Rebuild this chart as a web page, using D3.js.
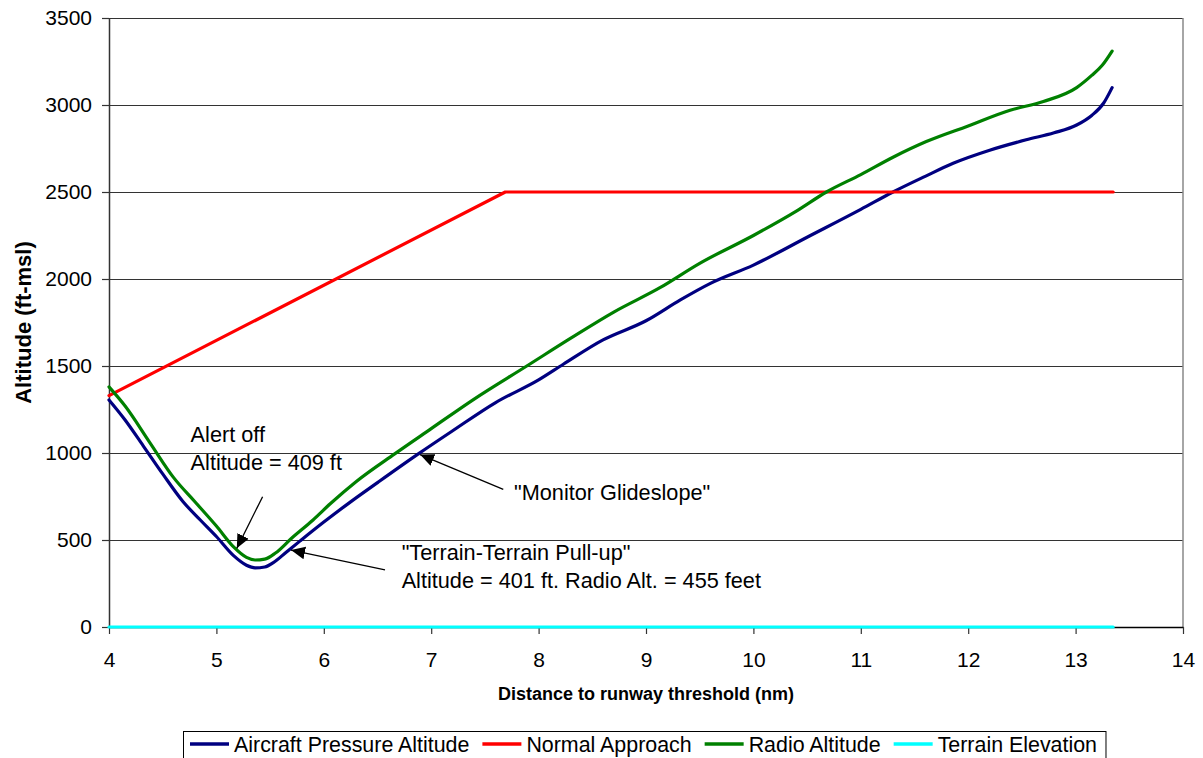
<!DOCTYPE html>
<html><head><meta charset="utf-8">
<script src="https://cdn.jsdelivr.net/npm/d3@7"></script>
<style>
body{margin:0;background:#fff}
svg{display:block}
text{font-family:"Liberation Sans",Arial,sans-serif;fill:#000}
</style>
</head><body>
<svg id="chart" width="1203" height="758"></svg>
<script>
// ---------- data ----------
const seriesNames = ["Aircraft Pressure Altitude", "Normal Approach", "Radio Altitude", "Terrain Elevation"];
const seriesColors = ["#000080", "#FF0000", "#008000", "#00FFFF"];
const xTickValues = [4, 5, 6, 7, 8, 9, 10, 11, 12, 13, 14];
const yTickValues = [0, 500, 1000, 1500, 2000, 2500, 3000, 3500];
const xTitle = "Distance to runway threshold (nm)";
const yTitle = "Altitude (ft-msl)";

const pressureAltitude = [
  [4.0,1305],[4.15,1190],[4.32,1040],[4.5,880],[4.69,720],[4.85,615],[5.0,520],
  [5.16,410],[5.28,355],[5.36,340],[5.45,345],[5.53,370],[5.65,430],[5.78,495],
  [6.0,603],[6.24,715],[6.5,830],[6.88,995],[7.2,1128],[7.6,1290],[8.0,1420],
  [8.23,1510],[8.6,1650],[9.0,1760],[9.32,1880],[9.6,1975],[10.0,2080],[10.5,2240],
  [11.0,2400],[11.3,2500],[11.6,2590],[11.86,2665],[12.2,2740],[12.54,2800],
  [12.8,2840],[13.01,2885],[13.15,2940],[13.26,3010],[13.34,3100]
];
const normalApproach = [[4.0,1330],[7.69,2500],[13.35,2500]];
const radioAltitude = [
  [4.0,1380],[4.15,1270],[4.38,1060],[4.6,860],[4.8,720],[5.0,580],[5.16,460],
  [5.28,400],[5.36,385],[5.45,390],[5.55,425],[5.7,510],[5.9,615],[6.06,708],
  [6.3,835],[6.66,995],[7.0,1140],[7.4,1310],[7.89,1500],[8.3,1660],[8.7,1810],
  [9.13,1950],[9.5,2090],[10.0,2250],[10.4,2390],[10.68,2500],[11.0,2600],
  [11.3,2700],[11.61,2790],[12.0,2880],[12.39,2970],[12.7,3020],[13.01,3100],
  [13.15,3170],[13.25,3230],[13.34,3310]
];
const terrainElevation = [[4.0,0],[13.35,0]];

// annotations: text anchor and arrow (tail -> tip) in data units
const annotationLines = [
  ["Alert off", "Altitude = 409 ft"],
  ["\"Terrain-Terrain Pull-up\"", "Altitude = 401 ft. Radio Alt. = 455 feet"],
  ["\"Monitor Glideslope\""]
];
const annotationText = [[4.76,1063],[6.725,385],[7.771,730]];
const arrowTail = [[5.43,749],[6.57,328],[7.671,791]];
const arrowTip = [[5.19,452],[5.695,442],[6.896,991]];

// ---------- layout ----------
const W = 1203, H = 758;
const m = {left:109, right:20, top:18, bottom:131};
const svg = d3.select("#chart");
const x = d3.scaleLinear().domain([4,14]).range([m.left, W - m.right]);
const y = d3.scaleLinear().domain([0,3500]).range([H - m.bottom, m.top]);

// gridlines
svg.append("g").selectAll("line").data(yTickValues.filter(d => d > 0)).join("line")
  .attr("x1", x(4)).attr("x2", x(14))
  .attr("y1", d => y(d)).attr("y2", d => y(d))
  .attr("stroke", "#333").attr("stroke-width", 1).attr("shape-rendering","crispEdges");

// right border
svg.append("line").attr("x1", x(14)).attr("x2", x(14)).attr("y1", y(3500)).attr("y2", y(0))
  .attr("stroke", "#888").attr("stroke-width", 1.5);

// axes
const fmt = d3.format("d");
const yAxis = svg.append("g").attr("transform", `translate(${x(4)},0)`)
  .call(d3.axisLeft(y).tickValues(yTickValues).tickFormat(fmt).tickSize(7).tickPadding(10).tickSizeOuter(0));
const xAxis = svg.append("g").attr("transform", `translate(0,${y(0)})`)
  .call(d3.axisBottom(x).tickValues(xTickValues).tickFormat(fmt).tickSize(7).tickPadding(18).tickSizeOuter(0));
[xAxis, yAxis].forEach(g => {
  g.select(".domain").attr("stroke", "#333").attr("stroke-width", 1.5);
  g.selectAll(".tick line").attr("stroke", "#333").attr("stroke-width", 1.2);
  g.selectAll(".tick text").attr("font-size", 21).attr("font-family", "Liberation Sans, Arial, sans-serif").attr("fill","#000");
});
xAxis.select(".domain").attr("stroke", "#000");

// axis titles
svg.append("text").attr("x", (x(4)+x(14))/2).attr("y", 700).attr("text-anchor","middle")
  .attr("font-size", 18).attr("font-weight","bold").text(xTitle);
svg.append("text").attr("transform", `translate(31,${(y(0)+y(3500))/2}) rotate(-90)`)
  .attr("text-anchor","middle").attr("font-size", 22).attr("font-weight","bold").text(yTitle);

// series
const smooth = d3.line().x(d => x(d[0])).y(d => y(d[1])).curve(d3.curveMonotoneX);
const straight = d3.line().x(d => x(d[0])).y(d => y(d[1]));
const allSeries = [pressureAltitude, normalApproach, radioAltitude, terrainElevation];
allSeries.forEach((s, i) => {
  svg.append("path").datum(s).attr("d", (i === 1 || i === 3) ? straight : smooth).attr("fill","none")
    .attr("stroke", seriesColors[i]).attr("stroke-width", 3.2)
    .attr("stroke-linejoin","round").attr("stroke-linecap","round");
});

// arrows
svg.append("defs").append("marker").attr("id","arrow")
  .attr("viewBox","0 0 10 10").attr("refX",10).attr("refY",5)
  .attr("markerWidth",14).attr("markerHeight",14).attr("markerUnits","userSpaceOnUse")
  .attr("orient","auto")
  .append("path").attr("d","M0,0.5 L10,5 L0,9.5 Z").attr("fill","#000");
arrowTail.forEach((t, i) => {
  svg.append("line").attr("x1", x(t[0])).attr("y1", y(t[1]))
    .attr("x2", x(arrowTip[i][0])).attr("y2", y(arrowTip[i][1]))
    .attr("stroke","#000").attr("stroke-width",1.3).attr("marker-end","url(#arrow)");
});
annotationLines.forEach((lines, i) => {
  const t = svg.append("text").attr("font-size", 21.7);
  lines.forEach((l, j) => {
    t.append("tspan").attr("x", x(annotationText[i][0])).attr("y", y(annotationText[i][1]) + j*27.5).text(l);
  });
});

// legend
const lg = svg.append("g");
const box = lg.append("rect").attr("fill","#fff").attr("stroke","#000").attr("stroke-width",1);
let cx = 190;
const ly = 744;
seriesNames.forEach((n, i) => {
  lg.append("line").attr("x1", cx).attr("x2", cx + 39).attr("y1", ly).attr("y2", ly)
    .attr("stroke", seriesColors[i]).attr("stroke-width", 3.5);
  const t = lg.append("text").attr("x", cx + 44).attr("y", ly + 7.5).attr("font-size", 21.4).text(n);
  cx += 44 + t.node().getComputedTextLength() + 13;
});
box.attr("x", 183.5).attr("y", 731.5).attr("width", cx - 13 + 9 - 183.5).attr("height", 30);
</script>
</body></html>
